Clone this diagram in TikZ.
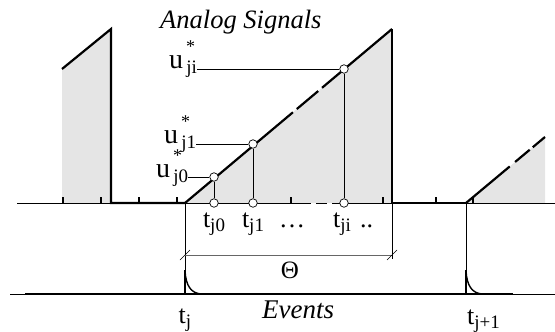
\documentclass[tikz,border=0pt]{standalone}
\usepackage{fontspec}
\setmainfont{Liberation Serif}
\usetikzlibrary{calc}

\tikzset{
  thinline/.style={line width=0.6pt},
  heavyline/.style={line width=2.2pt},
  sample/.style={circle, draw, fill=white, line width=0.7pt, inner sep=0pt, minimum size=8.5pt},
  lbl/.style={inner sep=0pt, anchor=base, font=\fontsize{26}{30}\selectfont},
}
\newcommand{\ulabel}[1]{u\rlap{\raisebox{1.2ex}{\fontsize{18}{18}\selectfont\,*}}\raisebox{-0.4ex}{\fontsize{19}{19}\selectfont\,#1}}
\newcommand{\tlabel}[1]{t\raisebox{-0.35ex}{\fontsize{19}{19}\selectfont #1}}

\begin{document}
\begin{tikzpicture}[x=1pt, y=-1pt]

  %% ════ grey areas under the signal ════
  \fill[gray!20] (62,203) -- (62,69) -- (111,29) -- (111,203) -- cycle;
  \fill[gray!20] (185,203) -- (392,29) -- (392,203) -- cycle;
  \fill[gray!20] (466,203) -- (545,137) -- (545,203) -- cycle;

  %% ════ time axes ════
  \draw[thinline] (17,203) -- (311,203);
  \draw[thinline] (316,203) -- (327,203);
  \draw[thinline] (332,203) -- (555,203);
  \draw[thinline] (10,294) -- (555,294);
  \foreach \x in {63,101,139,177,291,383,436,473}
    \draw[line width=1.2pt] (\x,203) -- (\x,197);

  %% ════ analog signal ════
  \coordinate (r0) at (185,203);
  \coordinate (r1) at (392,29);
  \coordinate (q0) at (466,203);
  \coordinate (q1) at (545,137);
  \draw[heavyline] (62,69) -- (111,29) -- (111,203) -- (r0);
  \draw[heavyline, dash pattern=on 141pt off 5pt on 28pt off 5pt on 200pt] (r0) -- (r1);
  \draw[heavyline] (r1) -- (392,203) -- (q0);
  \draw[heavyline, dash pattern=on 57pt off 7pt on 19pt off 4pt on 30pt] (q0) -- (q1);

  %% ════ events ════
  \coordinate (ej) at (185,294);
  \coordinate (ej1) at (466,294);
  \draw[heavyline] (25,294) -- (513,294);
  \draw[thinline] (r0) -- (ej);
  \draw[thinline] (q0) -- (ej1);
  \foreach \e in {ej,ej1} {
    \draw[heavyline] (\e) -- ++(0,-24);
    \draw[line width=1.4pt] ($(\e)+(0,-23)$) .. controls ($(\e)+(1,-8)$) and ($(\e)+(6,-1)$) .. ($(\e)+(16,0)$);
  }

  %% ════ sampling window Θ ════
  \coordinate (th0) at (185,255);
  \coordinate (th1) at (392,255);
  \draw[thinline] (392,203) -- (392,259);
  \draw[thinline, black!60] (th0) -- (th1);
  \foreach \c in {th0,th1}
    \draw[thinline] ($(\c)+(-5,5)$) -- ($(\c)+(5,-5)$);

  %% ════ samples ════
  \node[sample] (s0) at (214,177) {};
  \node[sample] (s1) at (253,144) {};
  \node[sample] (si) at (344,69) {};
  \node[sample] (a0) at (214,203) {};
  \node[sample] (a1) at (253,203) {};
  \node[sample] (ai) at (344,203) {};
  \draw[thinline] (s0) -- (a0);
  \draw[thinline] (s1) -- (a1);
  \draw[thinline] (si) -- (ai);

  %% ════ labels ════
  \node[lbl, anchor=base west, font=\fontsize{26.5}{30}\selectfont\itshape] (title) at (160,28) {Analog Signals};
  \node[lbl, anchor=base west, font=\fontsize{28}{30}\selectfont] (uji) at (169,68) {\ulabel{ji}};
  \node[lbl, anchor=base west, font=\fontsize{28}{30}\selectfont] (uj1) at (164,143) {\ulabel{j1}};
  \node[lbl, anchor=base west, font=\fontsize{28}{30}\selectfont] (uj0) at (156,177) {\ulabel{j0}};
  \draw[thinline] (si) -- (si -| uji.east);
  \draw[thinline] (s1) -- (s1 -| uj1.east);
  \draw[thinline] (s0) -- (s0 -| uj0.east);

  \node[lbl] (tj0) at (214,227) {\tlabel{j0}};
  \node[lbl] (tj1) at (253,227) {\tlabel{j1}};
  \node[lbl] (tdots) at (292,227) {\dots};
  \node[lbl, anchor=base west] (tji) at (333,227) {\tlabel{ji}\hspace{0.35em}..};
  \node[lbl, font=\fontsize{25}{30}\selectfont] (theta) at (290,278) {Θ};
  \node[lbl] (tj) at (185,323) {\tlabel{j}};
  \node[lbl, anchor=base west, font=\fontsize{27}{30}\selectfont\itshape] (events) at (262,318) {Events};
  \node[lbl, anchor=base west] (tjn) at (467,324) {\tlabel{j+1}};

  \pgfresetboundingbox
  \path[use as bounding box] (0,0) rectangle (555,332);
\end{tikzpicture}
\end{document}
